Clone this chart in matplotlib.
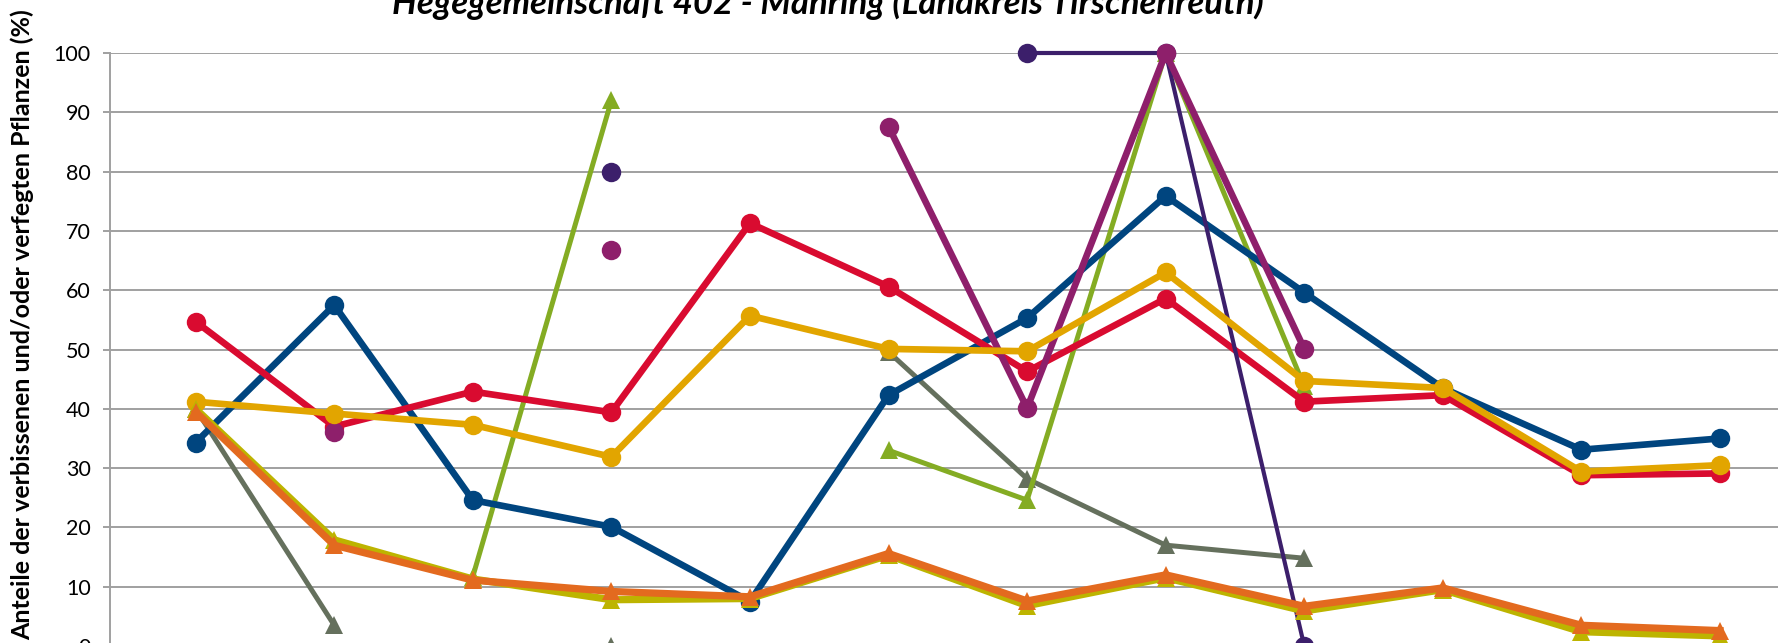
import numpy as np
import matplotlib
matplotlib.use("Agg")
import matplotlib.pyplot as plt

plt.rcParams['font.family'] = ['Lato', 'DejaVu Sans']

nan = np.nan

# one value per aufnahme (12 categories, x axis labels are cut off in the picture)
x = np.arange(12)

blue    = [34.3, 57.5, 24.6, 20.1, 7.5, 42.3, 55.3, 75.9, 59.6, 43.5, 33.1, 35.0]
red     = [54.7, 37.0, 42.9, 39.4, 71.3, 60.6, 46.3, 58.6, 41.2, 42.3, 28.8, 29.1]
yellow  = [41.2, 39.2, 37.3, 31.9, 55.7, 50.1, 49.7, 63.0, 44.7, 43.5, 29.4, 30.5]
magenta = [nan, 36.1, nan, 66.7, nan, 87.6, 40.1, 100, 50.1, nan, nan, nan]
indigo  = [nan, nan, nan, 80.0, nan, nan, 100, 100, 0, nan, nan, nan]

green   = [nan, nan, 11.7, 92.0, nan, 33.0, 24.6, 100, 43.8, nan, nan, nan]
grey    = [40.0, 3.5, nan, 0, nan, 49.6, 28.2, 17.0, 14.8, nan, nan, nan]
olive   = [40.0, 17.9, 11.3, 7.8, 8.0, 15.3, 6.8, 11.5, 5.9, 9.5, 2.4, 1.7]
orange  = [39.5, 17.0, 11.1, 9.2, 8.3, 15.6, 7.6, 12.0, 6.7, 9.8, 3.5, 2.6]

title = "Hegegemeinschaft 402 - Mähring (Landkreis Tirschenreuth)"
ylabel = "Anteile der verbissenen und/oder verfegten Pflanzen (%)"

fig = plt.figure(figsize=(17.78, 6.43), dpi=100)
ax = fig.add_axes([110/1778, -3/643, 1707/1778, 593/643])

# triangles (verfegt / sonstige) and circles, drawn in this order
ax.plot(x, grey, color='#65705D', lw=3.6, marker='^', ms=13, mew=0, clip_on=False, zorder=3)
ax.plot(x, green, color='#84AC23', lw=3.6, marker='^', ms=13, mew=0, clip_on=False, zorder=3)
ax.plot(x, blue, color='#00457F', lw=4.8, marker='o', ms=14, mew=0, clip_on=False, zorder=4)
ax.plot(x, red, color='#D90B30', lw=4.8, marker='o', ms=14, mew=0, clip_on=False, zorder=4)
ax.plot(x, indigo, color='#3C1F6B', lw=3.0, marker='o', ms=14, mew=0, clip_on=False, zorder=4)
ax.plot(x, magenta, color='#8E1F6B', lw=4.8, marker='o', ms=14, mew=0, clip_on=False, zorder=5)
ax.plot(x, yellow, color='#E2A500', lw=4.8, marker='o', ms=14, mew=0, clip_on=False, zorder=5)
ax.plot(x, olive, color='#BDB400', lw=5.2, marker='^', ms=13, mew=0, clip_on=False, zorder=6)
ax.plot(x, orange, color='#E36A1F', lw=5.2, marker='^', ms=13, mew=0, clip_on=False, zorder=6)

ax.set_xlim(-0.618, 11.7)
ax.set_ylim(0, 100)
ax.set_yticks(range(0, 101, 10))
ax.set_xticks([])
ax.grid(axis='y', color='#A0A0A0', lw=1.4)
ax.set_axisbelow(True)
for s in ['top', 'right', 'bottom']:
    ax.spines[s].set_visible(False)
ax.spines['left'].set_color('#A0A0A0')
ax.spines['left'].set_linewidth(1.4)
ax.tick_params(axis='y', length=5, width=1.4, color='#A0A0A0', labelsize=15.5, pad=9)

fig.text(828/1778, 1 - 14/643, title, ha='center', va='baseline',
         fontsize=25, fontweight='bold', fontstyle='italic')
fig.text(34/1778, 1 - 325/643, ylabel, rotation=90, ha='right', va='center',
         fontsize=18, fontweight='bold')

fig.savefig("out.png", dpi=100)
